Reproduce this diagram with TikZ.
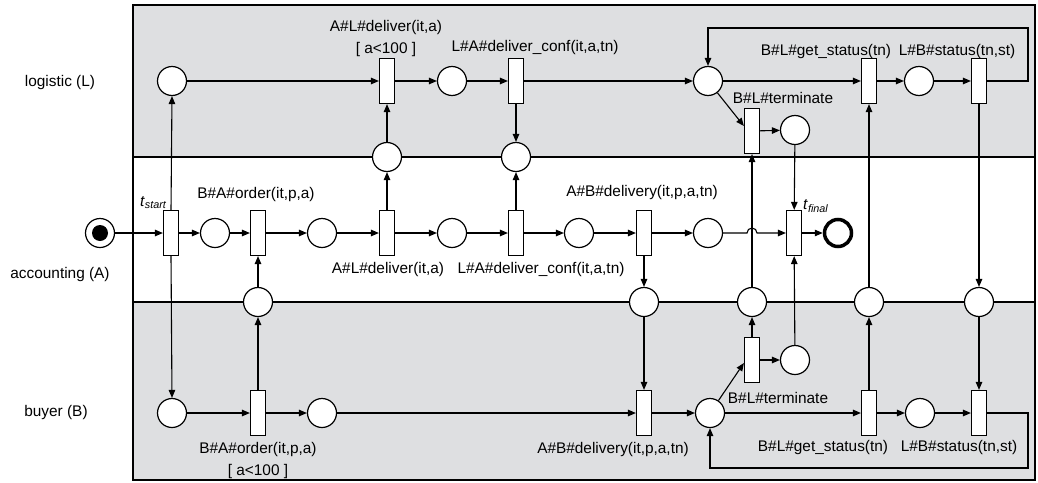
\documentclass[tikz,border=0pt]{standalone}
\usepackage{fontspec}
\setmainfont{Liberation Sans}
\usetikzlibrary{arrows.meta}
\definecolor{lanegray}{RGB}{222,223,225}
\begin{document}
\begin{tikzpicture}[x=1pt,y=-1pt,
  place/.style={circle,draw,fill=white,minimum size=29pt,inner sep=0pt,line width=1.2pt},
  trans/.style={rectangle,draw,fill=white,minimum width=15pt,minimum height=45pt,inner sep=0pt,line width=1.2pt},
  arr/.style={-{Triangle[length=8pt,width=6.5pt]},line width=1.1pt},
  ln/.style={line width=1.1pt},
  lab/.style={inner sep=0pt,font=\fontsize{15.4}{17}\selectfont},
  lanebox/.style={draw,line width=1.1pt}]
\useasboundingbox (0,0) rectangle (1038,482);
% lanes
\path[lanebox,fill=lanegray] (133,5) rectangle (1035,157);
\path[lanebox,fill=white] (133,157) rectangle (1035,302);
\path[lanebox,fill=lanegray] (133,302) rectangle (1035,480);
% lane labels
\node[lab] (laneL) at (60,83) {logistic (L)};
\node[lab] (laneA) at (60,275) {accounting (A)};
\node[lab] (laneB) at (56,413) {buyer (B)};
% logistic row
\node[place] (pL0) at (172,81) {};
\node[trans] (tLdel) at (387,81) {};
\node[place] (pL1) at (452,81) {};
\node[trans] (tLconf) at (516,81) {};
\node[place] (pL2) at (708,81) {};
\node[trans] (tLget) at (869,81) {};
\node[place] (pL3) at (919,81) {};
\node[trans] (tLstat) at (979,81) {};
\node[trans] (tLterm) at (752,131) {};
\node[place] (pL4) at (795,130) {};
% L/A boundary
\node[place] (bLA1) at (387,157) {};
\node[place] (bLA2) at (516,157) {};
% accounting row
\node[place] (pStart) at (100,233) {};
\fill (pStart) circle[radius=8pt];
\node[trans] (tStart) at (171,233) {};
\node[place] (pA1) at (215,233) {};
\node[trans] (tAord) at (258,233) {};
\node[place] (pA2) at (322,233) {};
\node[trans] (tAdel) at (387,233) {};
\node[place] (pA3) at (452,233) {};
\node[trans] (tAconf) at (516,233) {};
\node[place] (pA4) at (579,233) {};
\node[trans] (tAdlv) at (644,233) {};
\node[place] (pA5) at (708,233) {};
\node[trans] (tFinal) at (794,233) {};
\node[place,line width=3.5pt,minimum size=27pt] (pFinal) at (838,233) {};
% A/B boundary
\node[place] (bAB1) at (258,302) {};
\node[place] (bAB2) at (644,302) {};
\node[place] (bAB3) at (752,302) {};
\node[place] (bAB4) at (869,302) {};
\node[place] (bAB5) at (979,302) {};
% buyer row
\node[place] (pB0) at (172,413) {};
\node[trans] (tBord) at (258,413) {};
\node[place] (pB1) at (322,413) {};
\node[trans] (tBdlv) at (644,413) {};
\node[place] (pB2) at (710,413) {};
\node[trans] (tBterm) at (752,360) {};
\node[place] (pB3) at (795,360) {};
\node[trans] (tBget) at (869,413) {};
\node[place] (pB4) at (920,413) {};
\node[trans] (tBstat) at (979,413) {};
% loop corners
\coordinate (cLoopL) at (1028,28);
\coordinate (cLoopB) at (1028,468);
\coordinate (hopS) at (747,233);
% logistic arcs
\draw[arr] (pL0) -- (tLdel);
\draw[arr] (tLdel) -- (pL1);
\draw[arr] (pL1) -- (tLconf);
\draw[arr] (tLconf) -- (pL2);
\draw[arr] (pL2) -- (tLget);
\draw[arr] (tLget) -- (pL3);
\draw[arr] (pL3) -- (tLstat);
\draw[arr] (tLstat.east) -| (cLoopL) -| (pL2.north);
\draw[arr] (pL2) -- ([yshift=5pt]tLterm.west);
\draw[arr] (tLterm) -- (pL4);
\draw[arr] (bLA1) -- (tLdel);
\draw[arr] (tLconf) -- (bLA2);
% accounting arcs
\draw[arr] (pStart) -- (tStart);
\draw[arr] (tStart) -- (pA1);
\draw[arr] (pA1) -- (tAord);
\draw[arr] (tAord) -- (pA2);
\draw[arr] (pA2) -- (tAdel);
\draw[arr] (tAdel) -- (pA3);
\draw[arr] (pA3) -- (tAconf);
\draw[arr] (tAconf) -- (pA4);
\draw[arr] (pA4) -- (tAdlv);
\draw[arr] (tAdlv) -- (pA5);
\draw[arr] (tFinal) -- (pFinal);
\draw[arr] (tAdel) -- (bLA1);
\draw[arr] (tAconf) -- (bLA2);
\draw[arr] (tStart.north) -- (pL0.south);
\draw[arr] (tStart.south) -- (pB0.north);
\draw[arr] (bAB1) -- (tAord);
\draw[arr] (tAdlv) -- (bAB2);
\draw[arr] (bAB3) -- (tLterm);
\draw[arr] (pL4) -- (tFinal);
\draw[arr] (pB3) -- (tFinal);
\draw[arr] (bAB4) -- (tLget);
\draw[arr] (tLstat) -- (bAB5);
\draw[arr] (pA5) -- (hopS) arc[start angle=180,end angle=0,radius=5pt] -- (tFinal);
% buyer arcs
\draw[arr] (pB0) -- (tBord);
\draw[arr] (tBord) -- (pB1);
\draw[arr] (pB1) -- (tBdlv);
\draw[arr] (tBdlv) -- (pB2);
\draw[arr] (pB2) -- ([yshift=-3pt]tBterm.west);
\draw[arr] (tBterm) -- (bAB3);
\draw[arr] (tBterm) -- (pB3);
\draw[arr] (pB2) -- (tBget);
\draw[arr] (tBget) -- (pB4);
\draw[arr] (pB4) -- (tBstat);
\draw[arr] (tBstat.east) -| (cLoopB) -| (pB2.south);
\draw[arr] (tBord) -- (bAB1);
\draw[arr] (bAB2) -- (tBdlv);
\draw[arr] (tBget) -- (bAB4);
\draw[arr] (bAB5) -- (tBstat);
% labels
\node[lab] (lLdel) at (386,28) {A\#L\#deliver(it,a)};
\node[lab] (lLdelg) at (386,50) {[ a<100 ]};
\node[lab] (lLconf) at (535,48) {L\#A\#deliver\_conf(it,a,tn)};
\node[lab] (lLget) at (826,52) {B\#L\#get\_status(tn)};
\node[lab] (lLstat) at (957,52) {L\#B\#status(tn,st)};
\node[lab] (lLterm) at (783,98) {B\#L\#terminate};
\node[lab,anchor=south east] (lStart) at (167,209) {\textit{t}\textsubscript{\textit{start}}};
\node[lab] (lAord) at (256,195) {B\#A\#order(it,p,a)};
\node[lab] (lAdel) at (388,270) {A\#L\#deliver(it,a)};
\node[lab] (lAconf) at (541,270) {L\#A\#deliver\_conf(it,a,tn)};
\node[lab] (lAdlv) at (642,193) {A\#B\#delivery(it,p,a,tn)};
\node[lab,anchor=south west] (lFinal) at (803,213) {\textit{t}\textsubscript{\textit{final}}};
\node[lab] (lBord) at (258,450) {B\#A\#order(it,p,a)};
\node[lab] (lBordg) at (258,472) {[ a<100 ]};
\node[lab] (lBdlv) at (613,450) {A\#B\#delivery(it,p,a,tn)};
\node[lab] (lBterm) at (778,398) {B\#L\#terminate};
\node[lab] (lBget) at (823,448) {B\#L\#get\_status(tn)};
\node[lab] (lBstat) at (959,448) {L\#B\#status(tn,st)};
\end{tikzpicture}
\end{document}
